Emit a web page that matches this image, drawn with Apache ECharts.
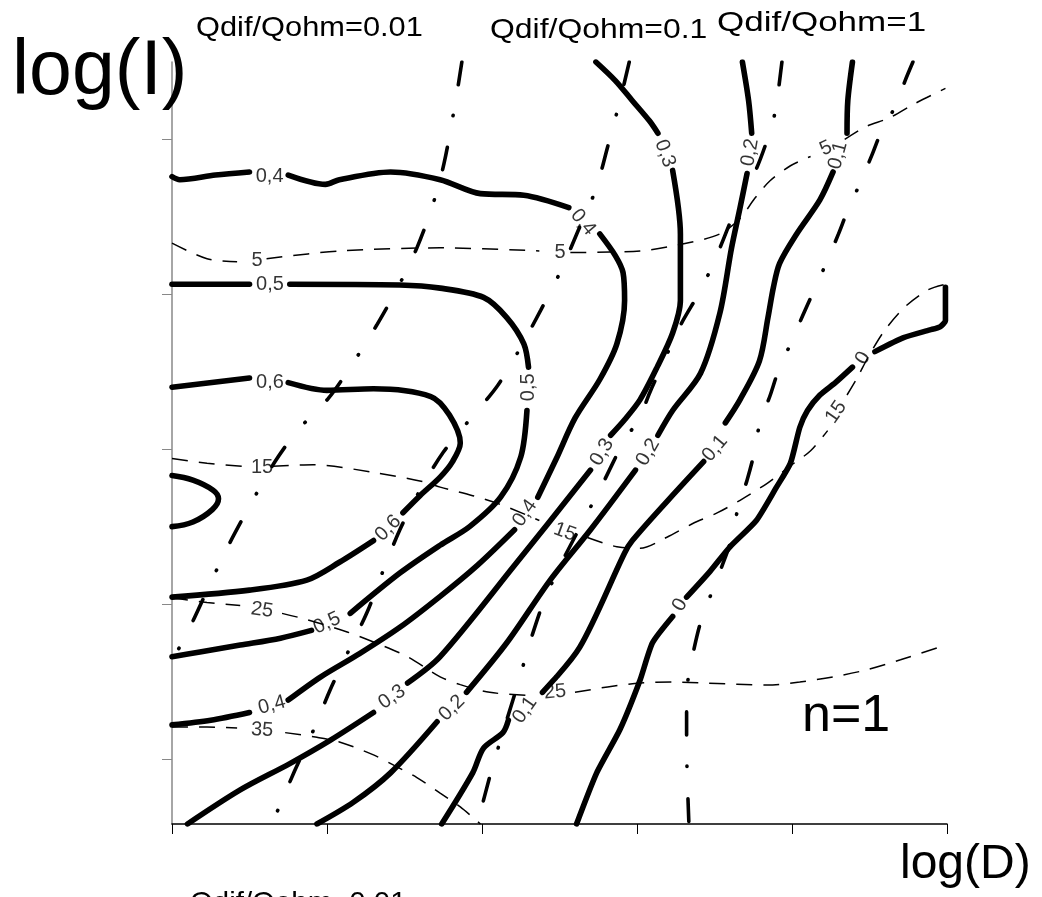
<!DOCTYPE html>
<html>
<head>
<meta charset="utf-8">
<script src="https://cdn.jsdelivr.net/npm/echarts@6/dist/echarts.min.js"></script>
<style>
  html, body { margin: 0; padding: 0; background: #fff; }
  #chart { width: 1042px; height: 897px; }
</style>
</head>
<body>
<div id="chart"></div>
<script>
// ---- axes ----
const xTicks = [0, 1, 2, 3, 4, 5];
const yTicks = [0, 1, 2, 3, 4];

// ---- solid contour levels: segments are broken where the level label sits ----
const level07Segments = [
  [[0,1.83],[0.135,1.80],[0.265,1.735],[0.30,1.68],[0.26,1.61],[0.135,1.53],[0,1.50]]
];
const level06Segments = [
  [[0,2.40],[0.50,2.46]],
  [[0.75,2.43],[1.0,2.38],[1.30,2.39],[1.67,2.34],[1.79,2.22],[1.86,2.04],[1.81,1.92],[1.73,1.82],[1.60,1.70],[1.49,1.59]],
  [[1.30,1.41],[1.08,1.27],[0.87,1.155],[0.50,1.09],[0,1.045]]
];
const level06Labels = [[0.632,2.432,0],[1.394,1.49,45]];

const level05Segments = [
  [[0,3.065],[0.50,3.065]],
  [[0.76,3.065],[1.47,3.06],[1.73,3.04],[2.01,2.98],[2.16,2.85],[2.27,2.68],[2.30,2.53]],
  [[2.29,2.25],[2.25,1.95],[2.12,1.69],[1.92,1.50],[1.73,1.38],[1.47,1.20],[1.15,0.94]],
  [[0.90,0.83],[0.70,0.78],[0.44,0.735],[0.18,0.69],[0,0.66]]
];
const level05Labels = [[0.632,3.065,0],[2.297,2.40,90],[1.0,0.877,25]];

const level04Segments = [
  [[0,3.76],[0.05,3.74],[0.28,3.77],[0.50,3.79]],
  [[0.75,3.77],[0.99,3.71],[1.08,3.74],[1.41,3.79],[1.73,3.74],[1.99,3.65],[2.27,3.64],[2.56,3.56]],
  [[2.76,3.39],[2.86,3.25],[2.91,3.14],[2.92,2.96],[2.87,2.68],[2.76,2.45],[2.60,2.20],[2.48,1.94],[2.36,1.69]],
  [[2.21,1.48],[1.97,1.25],[1.73,1.05],[1.47,0.85],[1.21,0.68],[0.96,0.53],[0.75,0.38]],
  [[0.50,0.30],[0.25,0.25],[0,0.22]]
];
const level04Labels = [[0.63,3.76,0],[2.652,3.465,-50],[2.277,1.587,55],[0.645,0.348,15]];

const level03Segments = [
  [[2.735,4.5],[2.86,4.38],[2.97,4.25],[3.08,4.12],[3.135,4.04]],
  [[3.23,3.80],[3.28,3.39],[3.28,2.96],[3.23,2.75],[3.13,2.53],[3.02,2.32],[2.92,2.19],[2.83,2.09]],
  [[2.70,1.865],[2.21,1.25],[1.73,0.66],[1.52,0.49]],
  [[1.30,0.30],[1.02,0.12],[0.76,-0.03],[0.44,-0.20],[0.10,-0.42]]
];
const level03Labels = [[3.181,3.91,-70],[2.774,1.981,60],[1.419,0.40,35]];

const level02Segments = [
  [[3.68,4.5],[3.72,4.25],[3.74,4.04]],
  [[3.71,3.78],[3.665,3.56],[3.61,3.30],[3.535,2.88],[3.41,2.49],[3.23,2.25],[3.135,2.09]],
  [[2.99,1.865],[2.70,1.48],[2.44,1.155],[2.16,0.75],[1.90,0.43]],
  [[1.71,0.24],[1.41,-0.09],[1.17,-0.28],[0.935,-0.42]]
];
const level02Labels = [[3.729,3.916,80],[3.071,1.981,60],[1.806,0.329,45]];

const level01Segments = [
  [[4.39,4.5],[4.36,4.25],[4.355,4.04]],
  [[4.265,3.79],[4.18,3.61],[4.03,3.39],[3.92,3.20],[3.88,3.045],[3.845,2.85],[3.79,2.57],[3.665,2.32],[3.57,2.17]],
  [[3.43,1.92],[3.20,1.67],[2.97,1.41],[2.92,1.33],[2.63,0.72],[2.39,0.43]],
  [[2.17,0.25],[2.135,0.17],[2.01,0.07],[1.94,-0.09],[1.74,-0.42]]
];
const level01Labels = [[4.297,3.897,75],[3.503,2.006,50],[2.277,0.316,55]];

const level00Segments = [
  [[4.99,3.045],[4.99,2.83],[4.955,2.79],[4.89,2.77],[4.72,2.72],[4.535,2.63]],
  [[4.39,2.53],[4.28,2.43],[4.18,2.35],[4.10,2.25],[4.05,2.14],[3.99,1.91],[3.90,1.755],[3.77,1.54],[3.60,1.37],[3.47,1.21],[3.32,1.045]],
  [[3.23,0.92],[3.10,0.75],[3.02,0.51],[2.89,0.19],[2.74,-0.09],[2.61,-0.42]]
];
const level00Labels = [[4.458,2.587,60],[3.277,0.994,60]];

// ---- thin dashed contours ----
const dashed5Segments = [
  [[0,3.33],[0.226,3.23],[0.42,3.21]],
  [[0.61,3.23],[1.08,3.28],[1.73,3.30],[2.37,3.28]],
  [[2.57,3.27],[3.02,3.28],[3.34,3.335],[3.535,3.39],[3.665,3.49],[3.76,3.62],[3.86,3.735],[3.99,3.83],[4.12,3.89]],
  [[4.34,4.0],[4.47,4.08],[4.63,4.14],[4.79,4.23],[4.99,4.33]]
];
const dashed5Labels = [[0.548,3.219,0],[2.503,3.271,0],[4.219,3.942,25]];

const dashed15Segments = [
  [[0,1.94],[0.226,1.91],[0.50,1.885]],
  [[0.65,1.89],[0.91,1.90],[1.30,1.85],[1.62,1.79],[1.73,1.755],[1.94,1.70],[2.10,1.65],[2.18,1.62],[2.37,1.54]],
  [[2.68,1.43],[2.87,1.37],[3.02,1.36],[3.19,1.43],[3.36,1.52],[3.52,1.59],[3.665,1.67],[3.84,1.78],[4.0,1.90],[4.12,1.99],[4.23,2.12]],
  [[4.355,2.35],[4.42,2.46],[4.50,2.61],[4.60,2.77],[4.73,2.92],[4.88,3.03],[4.99,3.065]]
];
const dashed15Labels = [[0.581,1.884,0],[2.535,1.465,-20],[4.284,2.239,55]];

const dashed25Segments = [
  [[0,1.04],[0.226,1.01],[0.44,0.99]],
  [[0.71,0.94],[0.87,0.90],[1.13,0.82],[1.30,0.755],[1.52,0.66],[1.73,0.53],[1.86,0.48],[2.05,0.43],[2.30,0.41]],
  [[2.60,0.43],[2.81,0.465],[3.02,0.49],[3.23,0.497],[3.45,0.49],[3.84,0.477],[4.05,0.497],[4.265,0.53],[4.48,0.575],[4.70,0.64],[4.99,0.735]]
];
const dashed25Labels = [[0.581,0.961,-8],[2.471,0.432,5]];

const dashed35Segments = [
  [[0,0.206],[0.226,0.206],[0.42,0.20]],
  [[0.73,0.17],[0.935,0.14],[1.08,0.11],[1.30,0.026],[1.43,-0.04],[1.58,-0.12],[1.73,-0.22],[1.86,-0.31],[1.99,-0.42]]
];
const dashed35Labels = [[0.581,0.187,-3]];

// ---- Qdif/Qohm ratio lines (dash-dot) ----
const ratioLineA = [[1.87,4.5],[1.83,4.25],[1.755,3.845],[1.68,3.57],[1.58,3.30],[1.46,3.05],[1.32,2.80],[1.17,2.56],[1.01,2.33],[0.81,2.12],[0.665,1.92],[0.51,1.65],[0.37,1.39],[0.25,1.14],[0.13,0.88],[0,0.63]];
const ratioLineB = [[2.95,4.5],[2.89,4.25],[2.81,3.95],[2.735,3.68],[2.62,3.41],[2.51,3.155],[2.38,2.90],[2.245,2.65],[2.10,2.41],[1.92,2.19],[1.75,1.98],[1.60,1.735],[1.47,1.48],[1.36,1.21],[1.26,0.95],[1.14,0.70],[1.02,0.445],[0.91,0.18],[0.79,-0.08],[0.645,-0.42]];
const ratioLineC = [[3.935,4.5],[3.90,4.23],[3.87,4.09],[3.77,3.81],[3.645,3.57],[3.535,3.30],[3.42,3.045],[3.28,2.80],[3.17,2.56],[3.08,2.36],[3.02,2.21],[2.91,2.04],[2.78,1.78],[2.65,1.53],[2.52,1.28],[2.40,1.02],[2.31,0.755],[2.23,0.48],[2.15,0.22],[2.065,-0.06],[1.97,-0.42]];
const ratioLineD = [[4.78,4.5],[4.73,4.38],[4.67,4.22],[4.58,4.06],[4.52,3.91],[4.44,3.72],[4.355,3.53],[4.30,3.39],[4.22,3.20],[4.135,3.01],[4.07,2.865],[3.99,2.68],[3.91,2.50],[3.86,2.35],[3.79,2.155],[3.75,1.95],[3.71,1.80],[3.65,1.61],[3.60,1.39],[3.55,1.25],[3.48,1.07],[3.41,0.88],[3.37,0.72],[3.33,0.52],[3.32,0.32],[3.32,0.10],[3.335,-0.42]];

// ---- annotation texts ----
const ratioTitles = ['Qdif/Qohm=0.01', 'Qdif/Qohm=0.1', 'Qdif/Qohm=1'];
const xName = 'log(D)';
const yName = 'log(I)';
const caseName = 'n=1';

const FONT = '"Liberation Sans", Arial, Helvetica, sans-serif';

const solidStyle = { color: '#000', width: 5.6, cap: 'round', join: 'round' };
const dashedStyle = { color: '#000', width: 1.5, type: [16, 11], cap: 'butt' };
const dashDotStyle = { color: '#000', width: 3.6, type: [23, 31, 0.5, 32], cap: 'round' };

function segmentSeries(segments, lineStyle, smooth) {
  return segments.map(function (seg) {
    return {
      type: 'line', data: seg, symbol: 'none', showSymbol: false,
      smooth: smooth, lineStyle: lineStyle, silent: true, animation: false, z: 3
    };
  });
}

function labelSeries(text, anchors, size) {
  return {
    type: 'scatter', symbolSize: 0, silent: true, animation: false, z: 6,
    data: anchors.map(function (a) { return { value: [a[0], a[1]], label: { rotate: a[2] } }; }),
    label: { show: true, position: 'inside', formatter: text, fontFamily: FONT, fontSize: size, color: '#000' }
  };
}

const series = [].concat(
  segmentSeries(level07Segments, solidStyle, 0.4),
  segmentSeries(level06Segments, solidStyle, 0.3), labelSeries('0,6', level06Labels, 20),
  segmentSeries(level05Segments, solidStyle, 0.3), labelSeries('0,5', level05Labels, 20),
  segmentSeries(level04Segments, solidStyle, 0.3), labelSeries('0,4', level04Labels, 20),
  segmentSeries(level03Segments, solidStyle, 0.3), labelSeries('0,3', level03Labels, 20),
  segmentSeries(level02Segments, solidStyle, 0.3), labelSeries('0,2', level02Labels, 20),
  segmentSeries(level01Segments, solidStyle, 0.3), labelSeries('0,1', level01Labels, 20),
  segmentSeries(level00Segments, solidStyle, 0.2), labelSeries('0', level00Labels, 20),
  segmentSeries(dashed5Segments, dashedStyle, 0.3), labelSeries('5', dashed5Labels, 20),
  segmentSeries(dashed15Segments, dashedStyle, 0.3), labelSeries('15', dashed15Labels, 20),
  segmentSeries(dashed25Segments, dashedStyle, 0.3), labelSeries('25', dashed25Labels, 20),
  segmentSeries(dashed35Segments, dashedStyle, 0.3), labelSeries('35', dashed35Labels, 20),
  segmentSeries([ratioLineA, ratioLineB, ratioLineC, ratioLineD], dashDotStyle, 0.3)
);

function textEl(str, x, y, size, scaleX) {
  return {
    type: 'text', x: x, y: y, scaleX: scaleX || 1, silent: true, z: 10,
    style: { text: str, x: 0, y: 0, font: size + 'px ' + FONT, fill: '#000', align: 'left', verticalAlign: 'middle' }
  };
}

const chart = echarts.init(document.getElementById('chart'), null, { renderer: 'canvas' });
chart.setOption({
  animation: false,
  backgroundColor: '#fff',
  grid: { left: 172, right: 95, top: 62, bottom: 73 },
  xAxis: {
    type: 'value', min: xTicks[0], max: xTicks[xTicks.length - 1], interval: 1,
    axisLine: { show: true, onZero: false, lineStyle: { color: '#000', width: 1.5 } },
    axisTick: { show: true, length: 10, lineStyle: { color: '#000', width: 1 } },
    axisLabel: { show: false }, splitLine: { show: false }
  },
  yAxis: {
    type: 'value', min: -0.42, max: 4.5,
    axisLine: { show: true, onZero: false, lineStyle: { color: '#888', width: 1.5 } },
    axisTick: { show: true, length: 10, customValues: yTicks, lineStyle: { color: '#888', width: 1 } },
    axisLabel: { show: false }, splitLine: { show: false }
  },
  series: series,
  graphic: [
    textEl(yName, 12, 73, 77),
    textEl(ratioTitles[0], 196, 28, 28, 1.1),
    textEl(ratioTitles[1], 490, 30, 28, 1.14),
    textEl(ratioTitles[2], 717, 23, 28, 1.25),
    textEl(ratioTitles[0], 190, 903, 28, 1.05),
    textEl(caseName, 802, 717, 52),
    textEl(xName, 900, 865, 48)
  ]
});
</script>
</body>
</html>
